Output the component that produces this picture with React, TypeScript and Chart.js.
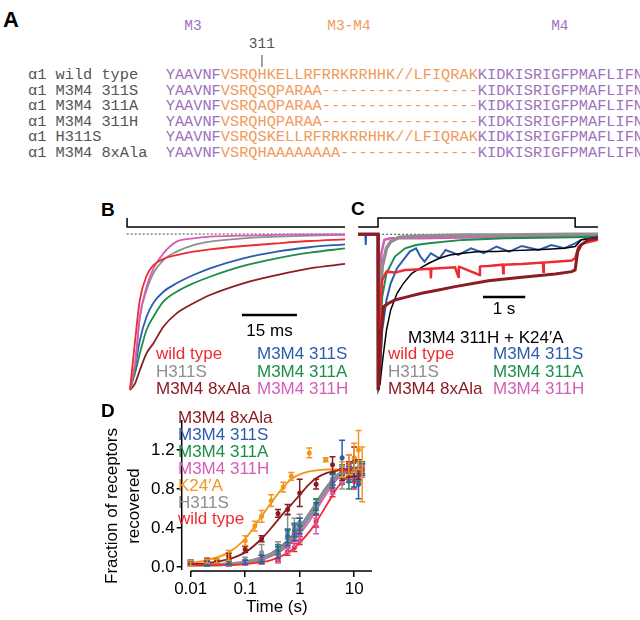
import React, { useEffect, useRef } from "react";
import { Chart, registerables } from "chart.js";

Chart.register(...registerables);

const SANS = '"Liberation Sans", Arial, Helvetica, sans-serif';
const MONO = '"Liberation Mono", "Courier New", "DejaVu Sans Mono", monospace';

const RED = "#ec2c32";
const GRAY = "#8f8f8f";
const DARKRED = "#8c1c22";
const BLUE = "#2d5cae";
const GREEN = "#1d8d4c";
const MAGENTA = "#d65cb8";
const ORANGE = "#f4961c";
const BLACK = "#000000";
const SEQ_PURPLE = "#9d72bd";
const SEQ_ORANGE = "#f19a5b";
const SEQ_GRAY = "#555555";

// ---------- Panel A: alignment ----------
const seqLabels = ["α1 wild type", "α1 M3M4 311S", "α1 M3M4 311A", "α1 M3M4 311H", "α1 H311S", "α1 M3M4 8xAla"];
const seqM3 = "YAAVNF";
const seqLoops = [
  "VSRQHKELLRFRRKRRHHK//LFIQRAK",
  "VSRQSQPARAA-----------------",
  "VSRQAQPARAA-----------------",
  "VSRQHQPARAA-----------------",
  "VSRQSKELLRFRRKRRHHK//LFIQRAK",
  "VSRQHAAAAAAAA---------------",
];
const seqM4 = "KIDKISRIGFPMAFLIFN";

// ---------- Panel B: fast desensitisation-recovery traces (ms, normalised current) ----------
const bTime = [0, 1.4, 2.7, 4.5, 6.4, 9.1, 12.7, 17.3, 21.8, 30.9, 40.0, 49.0, 58.6];
const bWildType = [-1, -0.68, -0.42, -0.27, -0.2, -0.16, -0.135, -0.113, -0.098, -0.077, -0.06, -0.045, -0.034];
const bH311S = [-1, -0.83, -0.53, -0.36, -0.25, -0.167, -0.113, -0.071, -0.049, -0.028, -0.017, -0.011, -0.006];
const b311H = [-1, -0.83, -0.53, -0.34, -0.22, -0.124, -0.049, -0.028, -0.017, -0.011, -0.006, -0.004, -0.002];
const b311S = [-1, -0.85, -0.68, -0.53, -0.44, -0.37, -0.316, -0.263, -0.22, -0.156, -0.113, -0.085, -0.066];
const b311A = [-1, -0.89, -0.765, -0.615, -0.53, -0.434, -0.37, -0.316, -0.274, -0.205, -0.156, -0.12, -0.092];
const b8xAla = [-1, -0.957, -0.872, -0.765, -0.7, -0.594, -0.509, -0.444, -0.391, -0.316, -0.263, -0.22, -0.192];
const bStimTime = [-0.8, -0.8, 58.6];
const bStimLevel = [0.103, 0.045, 0.045];
const bBaseTime = [-0.9, 58.6];
const bBaseLevel = [0, 0];
const bBarTime = [30.5, 45.5];
const bBarLevel = [-0.519, -0.519];

// ---------- Panel C: long application traces (s, normalised current) ----------
const c8xAlaT = [-0.47, 0, 0.005, 0.03, 0.08, 0.13, 0.25, 0.4, 0.64, 1.03, 1.43, 1.82, 2.61, 3.4, 4.19, 4.58, 4.66, 4.72, 4.8, 4.97, 5.2];
const c8xAlaV = [0, 0, -1, -0.914, -0.615, -0.465, -0.443, -0.422, -0.405, -0.379, -0.358, -0.336, -0.298, -0.276, -0.255, -0.24, -0.229, -0.111, -0.069, -0.036, -0.026];
const cWtT = [-0.47, 0, 0.005, 0.03, 0.06, 0.1, 0.2, 0.4, 0.64, 1.03, 1.24, 1.25, 1.26, 1.43, 1.82, 1.9, 1.91, 1.92, 2.4, 2.41, 2.42, 2.61, 2.95, 2.96, 2.97, 3.4, 3.9, 3.91, 3.92, 4.19, 4.58, 4.66, 4.74, 4.85, 5.2];
const cWtV = [0, 0, -1, -0.679, -0.422, -0.293, -0.24, -0.246, -0.229, -0.225, -0.221, -0.283, -0.221, -0.218, -0.212, -0.272, -0.212, -0.208, -0.261, -0.208, -0.206, -0.203, -0.195, -0.251, -0.195, -0.191, -0.182, -0.24, -0.182, -0.176, -0.169, -0.154, -0.079, -0.058, -0.036];
const cH311ST = [-0.47, 0, 0.005, 0.05, 0.1, 0.2, 0.3, 0.5, 1, 2, 3, 4, 4.66, 5.2];
const cH311SV = [0, 0, -1, -0.422, -0.208, -0.09, -0.047, -0.019, -0.011, -0.004, -0.004, -0.002, 0, 0];
const c311HT = [-0.47, 0, 0.005, 0.04, 0.08, 0.15, 0.3, 1, 2, 4, 5.2];
const c311HV = [0, 0, -1, -0.358, -0.122, -0.036, -0.026, -0.026, -0.021, -0.015, -0.011];
const c311AT = [-0.47, 0, 0.005, 0.05, 0.1, 0.2, 0.4, 0.64, 0.9, 1.2, 2, 3, 4.66, 5.2];
const c311AV = [0, 0, -1, -0.615, -0.4, -0.251, -0.143, -0.09, -0.069, -0.058, -0.036, -0.026, -0.019, -0.015];
const c311ST = [-0.47, -0.3, -0.29, -0.28, 0, 0.005, 0.05, 0.1, 0.2, 0.3, 0.45, 0.6, 0.75, 0.9, 1.0, 1.1, 1.25, 1.45, 1.6, 1.9, 2.2, 2.5, 2.8, 3.1, 3.4, 3.8, 4.1, 4.4, 4.66, 4.8, 5.2];
const c311SV = [0, 0, -0.069, 0, 0, -1, -0.85, -0.615, -0.422, -0.315, -0.218, -0.165, -0.111, -0.09, -0.143, -0.176, -0.122, -0.154, -0.101, -0.133, -0.09, -0.122, -0.079, -0.111, -0.075, -0.101, -0.069, -0.09, -0.058, -0.036, -0.015];
const cK24T = [-0.47, 0, 0.005, 0.05, 0.1, 0.2, 0.3, 0.45, 0.6, 0.8, 1.0, 1.2, 1.45, 1.7, 2.0, 2.4, 2.8, 3.2, 3.6, 4.0, 4.4, 4.66, 4.8, 5.2];
const cK24V = [0, 0, -1, -0.957, -0.829, -0.615, -0.486, -0.379, -0.315, -0.251, -0.218, -0.186, -0.154, -0.133, -0.122, -0.111, -0.111, -0.105, -0.101, -0.096, -0.09, -0.079, -0.036, -0.019];
const cStimTime = [-0.47, 0, 0, 4.66, 4.66, 5.2];
const cStimLevel = [0.047, 0.047, 0.105, 0.105, 0.047, 0.047];
const cBaseTime = [-0.47, 5.2];
const cBaseLevel = [0, 0];
const cBarTime = [2.48, 3.48];
const cBarLevel = [-0.403, -0.403];

// ---------- Panel D: recovery ----------
const dClusterT = [0.01, 0.02, 0.05, 0.1, 0.2, 0.4, 0.6, 0.8, 1, 2, 4, 6, 8, 10, 12, 14];
const d311SV = [0.05, 0.04, 0.05, 0.05, 0.08, 0.15, 0.3, 0.35, 0.42, 0.6, 0.88, 1.12, 0.95, 0.92, 0.85, 1.0];
const d311SE = [0.02, 0.02, 0.02, 0.02, 0.04, 0.06, 0.08, 0.08, 0.08, 0.06, 0.07, 0.18, 0.08, 0.1, 0.15, 0.06];
const d311AV = [0.04, 0.03, 0.04, 0.05, 0.09, 0.18, 0.32, 0.38, 0.44, 0.64, 0.9, 0.98, 0.88, 1.0, 0.95, 1.02];
const d311AE = [0.02, 0.02, 0.02, 0.02, 0.03, 0.05, 0.07, 0.07, 0.06, 0.06, 0.06, 0.07, 0.08, 0.08, 0.07, 0.06];
const d311HV = [0.03, 0.03, 0.03, 0.04, 0.06, 0.08, 0.22, 0.28, 0.33, 0.42, 0.82, 0.95, 1.05, 0.9, 1.0, 0.98];
const d311HE = [0.02, 0.02, 0.02, 0.02, 0.03, 0.04, 0.07, 0.07, 0.07, 0.08, 0.07, 0.08, 0.1, 0.08, 0.08, 0.06];
const dH311SV = [0.04, 0.04, 0.04, 0.07, 0.15, 0.2, 0.36, 0.4, 0.46, 0.62, 0.9, 0.86, 0.95, 1.0, 0.95, 1.02];
const dH311SE = [0.02, 0.02, 0.02, 0.03, 0.08, 0.06, 0.17, 0.1, 0.08, 0.07, 0.06, 0.06, 0.07, 0.08, 0.06, 0.06];
const dWtV = [0.03, 0.03, 0.03, 0.04, 0.05, 0.09, 0.16, 0.2, 0.27, 0.47, 0.78, 0.92, 0.98, 0.88, 0.93, 1.0];
const dWtE = [0.02, 0.02, 0.02, 0.02, 0.02, 0.03, 0.04, 0.04, 0.04, 0.06, 0.06, 0.07, 0.08, 0.08, 0.07, 0.06];
const d8xAlaT = [0.01, 0.02, 0.03, 0.05, 0.1, 0.2, 0.4, 0.6, 1, 2, 4, 6, 8, 10, 12];
const d8xAlaV = [0.05, 0.07, 0.06, 0.11, 0.18, 0.29, 0.55, 0.59, 0.76, 0.85, 1.05, 0.95, 1.0, 1.08, 1.0];
const d8xAlaE = [0.02, 0.02, 0.02, 0.03, 0.03, 0.03, 0.04, 0.05, 0.14, 0.05, 0.08, 0.06, 0.08, 0.15, 0.1];
const dK24T = [0.01, 0.02, 0.03, 0.05, 0.1, 0.15, 0.2, 0.3, 0.5, 0.7, 1.5, 3, 6, 8, 10, 12, 14];
const dK24V = [0.04, 0.06, 0.06, 0.12, 0.27, 0.42, 0.52, 0.68, 0.82, 0.93, 1.17, 1.1, 1.0, 1.05, 1.12, 1.2, 0.95];
const dK24E = [0.03, 0.02, 0.02, 0.05, 0.05, 0.05, 0.06, 0.06, 0.05, 0.04, 0.05, 0.02, 0.08, 0.1, 0.15, 0.2, 0.28];
const fitT = [0.01, 0.02, 0.05, 0.1, 0.2, 0.3, 0.5, 0.7, 1, 1.5, 2, 3, 5, 7, 10, 15];
const fitK24 = [0.04, 0.07, 0.15, 0.29, 0.52, 0.66, 0.82, 0.9, 0.95, 0.98, 0.99, 1.0, 1.0, 1.0, 1.0, 1.0];
const fit8xAla = [0.03, 0.04, 0.08, 0.15, 0.29, 0.4, 0.55, 0.64, 0.74, 0.85, 0.91, 0.96, 0.99, 1.0, 1.0, 1.0];
const fitH311S = [0.02, 0.02, 0.03, 0.05, 0.09, 0.13, 0.21, 0.29, 0.39, 0.53, 0.64, 0.79, 0.94, 0.98, 1.0, 1.0];
const fit311S = [0.02, 0.02, 0.03, 0.05, 0.1, 0.14, 0.23, 0.31, 0.41, 0.55, 0.66, 0.81, 0.95, 0.99, 1.0, 1.0];
const fit311A = [0.02, 0.02, 0.03, 0.04, 0.08, 0.12, 0.2, 0.27, 0.37, 0.51, 0.62, 0.78, 0.93, 0.98, 1.0, 1.0];
const fit311H = [0.02, 0.02, 0.02, 0.04, 0.07, 0.11, 0.18, 0.25, 0.34, 0.47, 0.58, 0.74, 0.91, 0.97, 1.0, 1.0];
const fitWt = [0.02, 0.02, 0.02, 0.03, 0.05, 0.07, 0.12, 0.17, 0.25, 0.36, 0.46, 0.62, 0.82, 0.91, 0.97, 1.0];
const xTickValues = [0.01, 0.1, 1, 10];
const xTickLabels = ["0.01", "0.1", "1", "10"];
const yTickValues = [0, 0.4, 0.8, 1.2];
const yTickLabels = ["0.0", "0.4", "0.8", "1.2"];

const legendBCLeft: [string, string][] = [["wild type", RED], ["H311S", GRAY], ["M3M4 8xAla", DARKRED]];
const legendBCRight: [string, string][] = [["M3M4 311S", BLUE], ["M3M4 311A", GREEN], ["M3M4 311H", MAGENTA]];
const legendD: [string, string][] = [
  ["M3M4 8xAla", DARKRED],
  ["M3M4 311S", BLUE],
  ["M3M4 311A", GREEN],
  ["M3M4 311H", MAGENTA],
  ["K24′A", ORANGE],
  ["H311S", GRAY],
  ["wild type", RED],
];

// ---------- helpers ----------
function line(xs: number[], ys: number[], color: string, width: number, order: number, extra: any = {}) {
  return {
    data: xs.map((x, i) => ({ x, y: ys[i] })),
    borderColor: color,
    backgroundColor: color,
    borderWidth: width,
    pointRadius: 0,
    fill: false,
    tension: 0,
    order,
    clip: false,
    ...extra,
  };
}

function traceOptions(xmin: number, xmax: number, ymin: number, ymax: number) {
  return {
    responsive: false,
    animation: false,
    maintainAspectRatio: false,
    events: [],
    layout: { padding: 0 },
    plugins: { legend: { display: false }, tooltip: { enabled: false } },
    scales: {
      x: { type: "linear", display: false, min: xmin, max: xmax },
      y: { type: "linear", display: false, min: ymin, max: ymax },
    },
  };
}

function ChartBox({ left, top, width, height, make }: any) {
  const ref = useRef<HTMLCanvasElement>(null);
  useEffect(() => {
    const chart = new Chart(ref.current as HTMLCanvasElement, make());
    return () => chart.destroy();
  }, []);
  return (
    <canvas ref={ref} width={width} height={height} style={{ position: "absolute", left, top, width, height }} />
  );
}

function Txt({ x, y, children, color = "#000", size = 17, weight = 400, family = SANS, anchor = "start", rotate = 0 }: any) {
  const tx = anchor === "middle" ? "-50%" : anchor === "end" ? "-100%" : "0";
  return (
    <div
      style={{
        position: "absolute",
        left: x,
        top: y,
        transform: `translate(${tx}, -50%)${rotate ? ` rotate(${rotate}deg)` : ""}`,
        color,
        fontSize: size,
        fontWeight: weight,
        fontFamily: family,
        lineHeight: 1,
        whiteSpace: "pre",
      }}
    >
      {children}
    </div>
  );
}

const errPlugin = {
  id: "errbars",
  afterDatasetsDraw(chart: any) {
    const ctx = chart.ctx;
    const ys = chart.scales.y;
    chart.data.datasets.forEach((ds: any, i: number) => {
      if (!ds.errs) return;
      const meta = chart.getDatasetMeta(i);
      ctx.save();
      ctx.strokeStyle = ds.borderColor;
      ctx.lineWidth = 1.5;
      meta.data.forEach((pt: any, j: number) => {
        const v = ds.data[j].y;
        const e = ds.errs[j];
        const x = pt.x;
        const y1 = ys.getPixelForValue(v + e);
        const y2 = ys.getPixelForValue(v - e);
        ctx.beginPath();
        ctx.moveTo(x, y1);
        ctx.lineTo(x, y2);
        ctx.moveTo(x - 3, y1);
        ctx.lineTo(x + 3, y1);
        ctx.moveTo(x - 3, y2);
        ctx.lineTo(x + 3, y2);
        ctx.stroke();
      });
      ctx.restore();
    });
  },
};

const axisPlugin = {
  id: "detachedAxes",
  afterDraw(chart: any) {
    const { ctx, chartArea: a, scales } = chart;
    ctx.save();
    ctx.strokeStyle = "#000";
    ctx.lineWidth = 1.5;
    ctx.beginPath();
    ctx.moveTo(scales.x.getPixelForValue(xTickValues[0]), a.bottom);
    ctx.lineTo(a.right, a.bottom);
    ctx.moveTo(a.left, a.top);
    ctx.lineTo(a.left, scales.y.getPixelForValue(yTickValues[0]) + 3);
    ctx.stroke();
    ctx.restore();
  },
};

function makeB() {
  return {
    type: "line",
    data: {
      datasets: [
        line(bStimTime, bStimLevel, BLACK, 1.5, 0),
        line(bBaseTime, bBaseLevel, "#444", 1, 20, { borderDash: [2, 2] }),
        line(bTime, b311H, MAGENTA, 1.8, 2, { cubicInterpolationMode: "monotone" }),
        line(bTime, bH311S, GRAY, 1.8, 3, { cubicInterpolationMode: "monotone" }),
        line(bTime, bWildType, RED, 1.8, 1, { cubicInterpolationMode: "monotone" }),
        line(bTime, b311S, BLUE, 1.8, 4, { cubicInterpolationMode: "monotone" }),
        line(bTime, b311A, GREEN, 1.8, 5, { cubicInterpolationMode: "monotone" }),
        line(bTime, b8xAla, DARKRED, 1.8, 6, { cubicInterpolationMode: "monotone" }),
        line(bBarTime, bBarLevel, BLACK, 2.5, 0),
      ],
    },
    options: traceOptions(-1.09, 58.87, -1.032, 0.141),
  };
}

function makeC() {
  return {
    type: "line",
    data: {
      datasets: [
        line(cStimTime, cStimLevel, BLACK, 1.5, 0),
        line(cBaseTime, cBaseLevel, "#444", 1, 20, { borderDash: [2, 2] }),
        line(c311HT, c311HV, MAGENTA, 2.5, 8),
        line(cH311ST, cH311SV, GRAY, 3.5, 7),
        line(c311AT, c311AV, GREEN, 2, 6),
        line(c311ST, c311SV, BLUE, 2, 5),
        line(cK24T, cK24V, BLACK, 1.5, 4),
        line(cWtT, cWtV, RED, 2.5, 3),
        line(c8xAlaT, c8xAlaV, DARKRED, 3, 2),
        line(cBarTime, cBarLevel, BLACK, 2.5, 0),
      ],
    },
    options: traceOptions(-0.544, 5.248, -1.032, 0.143),
  };
}

function pts(xs: number[], ys: number[], errs: number[], color: string, order: number) {
  return line(xs, ys, color, 1.5, order, {
    showLine: false,
    pointRadius: 2.5,
    pointBorderWidth: 0,
    pointBackgroundColor: color,
    errs,
  });
}

function makeD() {
  const tickFont = { family: SANS, size: 17 };
  return {
    type: "line",
    data: {
      datasets: [
        pts(dClusterT, dWtV, dWtE, RED, 1),
        pts(dClusterT, dH311SV, dH311SE, GRAY, 2),
        pts(dClusterT, d311HV, d311HE, MAGENTA, 3),
        pts(dClusterT, d311AV, d311AE, GREEN, 4),
        pts(dClusterT, d311SV, d311SE, BLUE, 5),
        pts(d8xAlaT, d8xAlaV, d8xAlaE, DARKRED, 6),
        pts(dK24T, dK24V, dK24E, ORANGE, 7),
        line(fitT, fitWt, RED, 1.8, 10, { cubicInterpolationMode: "monotone" }),
        line(fitT, fit8xAla, DARKRED, 1.8, 11, { cubicInterpolationMode: "monotone" }),
        line(fitT, fitK24, ORANGE, 1.8, 12, { cubicInterpolationMode: "monotone" }),
        line(fitT, fitH311S, GRAY, 3.5, 13, { cubicInterpolationMode: "monotone" }),
        line(fitT, fit311H, MAGENTA, 1.8, 14, { cubicInterpolationMode: "monotone" }),
        line(fitT, fit311A, GREEN, 2, 15, { cubicInterpolationMode: "monotone" }),
        line(fitT, fit311S, BLUE, 2, 16, { cubicInterpolationMode: "monotone" }),
      ],
    },
    options: {
      responsive: false,
      animation: false,
      maintainAspectRatio: false,
      events: [],
      layout: { padding: { top: 20, right: 18, left: 0, bottom: 0 } },
      plugins: { legend: { display: false }, tooltip: { enabled: false } },
      scales: {
        x: {
          type: "logarithmic",
          min: 0.00684,
          max: 21.2,
          afterBuildTicks: (s: any) => {
            s.ticks = xTickValues.map((v) => ({ value: v }));
          },
          afterFit: (s: any) => {
            s.height = 49;
          },
          ticks: {
            callback: (v: number) => {
              const i = xTickValues.indexOf(v);
              return i >= 0 ? xTickLabels[i] : "";
            },
            font: tickFont,
            color: "#000",
            padding: 2,
            maxRotation: 0,
            autoSkip: false,
          },
          grid: { display: true, drawOnChartArea: false, drawTicks: true, tickLength: 6, color: "#000", lineWidth: 1.5 },
          border: { display: false },
          title: { display: true, text: "Time (s)", font: tickFont, color: "#000", padding: { top: 0, bottom: 2 } },
        },
        y: {
          type: "linear",
          min: -0.041,
          max: 1.508,
          afterBuildTicks: (s: any) => {
            s.ticks = yTickValues.map((v) => ({ value: v }));
          },
          afterFit: (s: any) => {
            s.width = 81.7;
          },
          ticks: {
            callback: (v: number) => {
              const i = yTickValues.indexOf(v);
              return i >= 0 ? yTickLabels[i] : "";
            },
            font: tickFont,
            color: "#000",
            padding: 2,
            autoSkip: false,
          },
          grid: { display: true, drawOnChartArea: false, drawTicks: true, tickLength: 5, color: "#000", lineWidth: 1.5 },
          border: { display: false },
        },
      },
    },
    plugins: [errPlugin, axisPlugin],
  };
}

// ---------- layout constants ----------
const SEQ_X = 28;
const CHAR_W = 9.17;
const SEQ_COL = 15;
const ROW_Y0 = 76;
const ROW_DY = 15.5;

export default function App() {
  useEffect(() => {
    document.body.style.margin = "0";
    document.body.style.background = "#fff";
  }, []);
  const colX = (c: number) => SEQ_X + c * CHAR_W;
  const loopStart = SEQ_COL + seqM3.length;
  const m4Start = loopStart + seqLoops[0].length;
  return (
    <div style={{ position: "fixed", left: 0, top: 0, width: 640, height: 620, background: "#fff", overflow: "hidden" }}>
      {/* Panel A */}
      <Txt x={3} y={20} size={22} weight={700}>A</Txt>
      <Txt x={colX(SEQ_COL + seqM3.length / 2)} y={26} family={MONO} size={14.5} color={SEQ_PURPLE} anchor="middle">M3</Txt>
      <Txt x={colX(loopStart + seqLoops[0].length / 2)} y={26} family={MONO} size={14.5} color={SEQ_ORANGE} anchor="middle">M3-M4</Txt>
      <Txt x={colX(m4Start + seqM4.length / 2)} y={26} family={MONO} size={14.5} color={SEQ_PURPLE} anchor="middle">M4</Txt>
      <Txt x={colX(loopStart + 4.5)} y={44} family={MONO} size={14.5} color={SEQ_GRAY} anchor="middle">311</Txt>
      <Txt x={colX(loopStart + 4.5)} y={60} family={MONO} size={13} color={SEQ_GRAY} anchor="middle">|</Txt>
      {seqLabels.map((lab, i) => (
        <Txt key={lab} x={SEQ_X} y={ROW_Y0 + i * ROW_DY} family={MONO} size={15.3} color={SEQ_GRAY}>
          {lab.padEnd(SEQ_COL, " ")}
          <span style={{ color: SEQ_PURPLE }}>{seqM3}</span>
          <span style={{ color: SEQ_ORANGE }}>{seqLoops[i]}</span>
          <span style={{ color: SEQ_PURPLE }}>{seqM4}</span>
        </Txt>
      ))}

      {/* Panel B */}
      <Txt x={101} y={208.5} size={19} weight={700}>B</Txt>
      <ChartBox left={126} top={212} width={220} height={183} make={makeB} />
      <Txt x={269.5} y={330} anchor="middle">15 ms</Txt>
      {legendBCLeft.map(([t, c], i) => (
        <Txt key={"bl" + t} x={156} y={353 + i * 17.5} color={c}>{t}</Txt>
      ))}
      {legendBCRight.map(([t, c], i) => (
        <Txt key={"br" + t} x={257} y={353 + i * 17.5} color={c}>{t}</Txt>
      ))}

      {/* Panel C */}
      <Txt x={351} y={207.5} size={19} weight={700}>C</Txt>
      <ChartBox left={355} top={212} width={245} height={183} make={makeC} />
      <Txt x={504} y={308} anchor="middle">1 s</Txt>
      <Txt x={408} y={337}>M3M4 311H + K24′A</Txt>
      {legendBCLeft.map(([t, c], i) => (
        <Txt key={"cl" + t} x={388} y={353 + i * 17.5} color={c}>{t}</Txt>
      ))}
      {legendBCRight.map(([t, c], i) => (
        <Txt key={"cr" + t} x={493} y={353 + i * 17.5} color={c}>{t}</Txt>
      ))}

      {/* Panel D */}
      <Txt x={101} y={410} size={19} weight={700}>D</Txt>
      <ChartBox left={100} top={400} width={290} height={220} make={makeD} />
      <Txt x={111} y={506} anchor="middle" rotate={-90}>Fraction of receptors</Txt>
      <Txt x={133} y={506} anchor="middle" rotate={-90}>recovered</Txt>
      {legendD.map(([t, c], i) => (
        <Txt key={"d" + t} x={178} y={417 + i * 16.9} color={c}>{t}</Txt>
      ))}
    </div>
  );
}
